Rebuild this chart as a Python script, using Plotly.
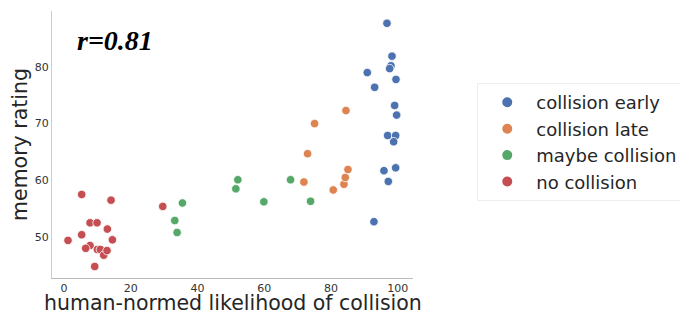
import plotly.graph_objects as go

categories = ["collision early", "collision late", "maybe collision", "no collision"]
colors = ["#4C72B0", "#DD8452", "#55A868", "#C44E52"]

early_x = [96.8, 98.3, 98.0, 97.6, 90.9, 99.5, 93.1, 99.1, 99.7, 97.0, 99.4, 98.8, 95.9, 99.4, 97.2, 92.9]
early_y = [87.7, 81.9, 80.2, 79.7, 79.0, 77.8, 76.4, 73.2, 71.5, 67.9, 67.9, 66.8, 61.7, 62.2, 59.8, 52.7]

late_x = [84.5, 75.1, 73.0, 71.9, 80.7, 83.9, 84.3, 85.1]
late_y = [72.3, 70.0, 64.7, 59.7, 58.3, 59.3, 60.5, 61.9]

maybe_x = [33.2, 33.9, 35.5, 51.5, 52.1, 59.9, 67.9, 73.9]
maybe_y = [52.9, 50.8, 56.0, 58.5, 60.1, 56.2, 60.1, 56.3]

no_x = [1.2, 5.3, 5.3, 7.8, 9.9, 7.8, 6.5, 10.0, 10.9, 11.9, 12.9, 13.0, 14.5, 14.1, 9.2, 29.6]
no_y = [49.4, 57.5, 50.4, 52.5, 52.5, 48.5, 48.0, 47.8, 47.8, 46.8, 47.6, 51.4, 49.5, 56.5, 44.8, 55.4]

x_ticks = [0, 20, 40, 60, 80, 100]
y_ticks = [50, 60, 70, 80]
r_label = "r=0.81"
x_title = "human-normed likelihood of collision"
y_title = "memory rating"

series_x = [early_x, late_x, maybe_x, no_x]
series_y = [early_y, late_y, maybe_y, no_y]

fig = go.Figure()
for name, c, xs, ys in zip(categories, colors, series_x, series_y):
    fig.add_trace(go.Scatter(
        x=xs, y=ys, mode="markers", name=name,
        marker=dict(color=c, size=8.5, line=dict(color="white", width=0.8)),
    ))

axis_font = dict(family="DejaVu Sans", size=20.5, color="#262626")
tick_font = dict(family="DejaVu Sans", size=11, color="#333333")

# the page body adds an 8px offset, margins compensate for it
fig.update_layout(
    width=688, height=314,
    margin=dict(l=44, r=283, t=3, b=44),
    paper_bgcolor="white", plot_bgcolor="white",
    showlegend=True,
    legend=dict(
        x=1.178, y=0.73, xanchor="left", yanchor="top",
        font=dict(family="DejaVu Sans", size=18, color="#262626"),
        bordercolor="#eeeeee", borderwidth=1, bgcolor="white",
        itemsizing="constant", tracegroupgap=0, itemwidth=48,
    ),
    xaxis=dict(
        range=[-3.6, 104.6], tickvals=x_ticks, showgrid=False, zeroline=False,
        showline=True, linecolor="#bbbbbb", linewidth=1, ticks="",
        tickfont=tick_font, automargin=False,
    ),
    yaxis=dict(
        range=[42.77, 89.86], tickvals=y_ticks, showgrid=False, zeroline=False,
        showline=True, linecolor="#cccccc", linewidth=1, ticks="",
        tickfont=tick_font, automargin=False,
        title=dict(text=y_title, font=axis_font, standoff=2),
    ),
    annotations=[
        dict(
            text=r_label, xref="paper", yref="paper", x=0.175, y=0.89,
            xanchor="center", yanchor="middle", showarrow=False,
            font=dict(family="Liberation Serif", size=28, color="black", weight="bold", style="italic"),
        ),
        dict(
            text=x_title, xref="paper", yref="paper", x=0.5, y=-0.095,
            xanchor="center", yanchor="middle", showarrow=False,
            font=axis_font,
        ),
    ],
)

fig.write_html("out.html")
